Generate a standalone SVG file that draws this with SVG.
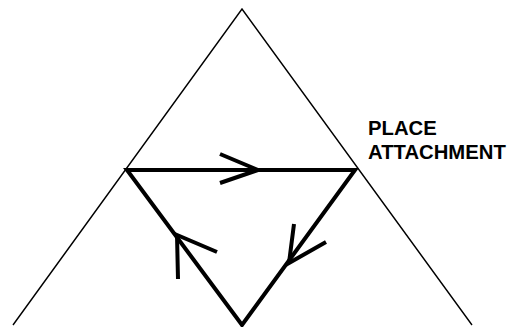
<svg xmlns="http://www.w3.org/2000/svg" width="509" height="327" viewBox="0 0 509 327">
<style>
.outer{fill:none;stroke:#000;stroke-width:1.4}
.inner{fill:none;stroke:#000;stroke-width:4;stroke-linejoin:miter}
.arrow{fill:none;stroke:#000;stroke-width:4;stroke-linecap:butt}
.lbl{font-family:"Liberation Sans",Arial,sans-serif;font-weight:bold;font-size:20.3px;fill:#000}
</style>
<rect width="509" height="327" fill="#fff"/>
<g id="outer-triangle">
<polyline class="outer" points="13,325 242,9 472,325"/>
</g>
<g id="connectors">
<path class="inner" d="M127,170 L355,170 L242,325 Z"/>
<polyline class="arrow" points="220,154 258,170 220,183"/>
<polyline class="arrow" points="294,224 289,263 326,242"/>
<polyline class="arrow" points="178,279 177,235 217,252"/>
</g>
<g id="label">
<text class="lbl" x="368" y="135">PLACE</text>
<text class="lbl" x="368" y="159">ATTACHMENT</text>
</g>
</svg>
